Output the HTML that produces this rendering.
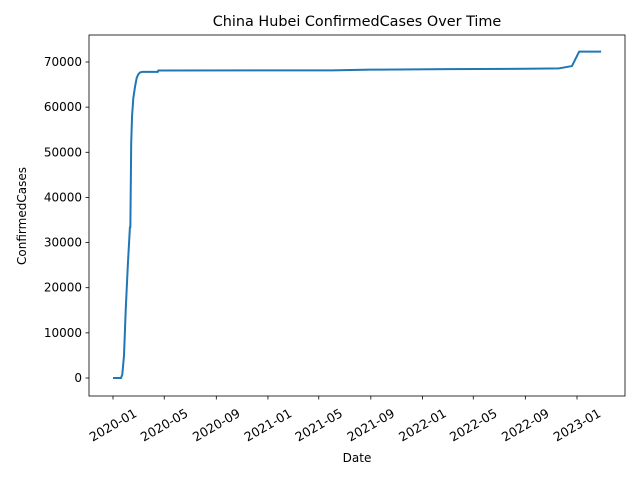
<!DOCTYPE html>
<html><head><meta charset="utf-8"><style>
body{margin:0;background:#fff;font-family:"Liberation Sans","DejaVu Sans",sans-serif}
svg text{font-family:"DejaVu Sans","Liberation Sans",sans-serif}
</style></head><body>
<svg id="chart" width="640" height="480" xmlns="http://www.w3.org/2000/svg">
<rect width="640" height="480" fill="#fff"/>
<text x="357" y="26" font-size="14.4" text-anchor="middle">China Hubei ConfirmedCases Over Time</text>
<text x="357" y="462" font-size="12" text-anchor="middle">Date</text>
<text transform="translate(26,216) rotate(-90)" font-size="12" text-anchor="middle">ConfirmedCases</text>
<g id="grid"></g>
<polyline id="line" fill="none" stroke="#1f77b4" stroke-width="2" stroke-linejoin="round"/>
<rect x="89" y="35" width="536" height="361" fill="none" stroke="#000" stroke-width="0.8"/>
</svg>
<script>
const dates=["2020-01-01","2020-01-20","2020-01-23","2020-01-27","2020-01-31","2020-02-05","2020-02-10","2020-02-11","2020-02-13","2020-02-15","2020-02-18","2020-02-22","2020-02-26","2020-03-01","2020-03-05","2020-03-10","2020-04-16","2020-04-17","2021-06-01","2021-09-01","2022-03-01","2022-09-01","2022-11-20","2022-12-20","2023-01-06","2023-02-27"];
const values=[0,0,800,5000,15000,25000,33400,33400,52000,58000,62000,64500,66500,67300,67700,67800,67800,68128,68150,68300,68420,68500,68600,69100,72290,72290];
const xTicks=["2020-01","2020-05","2020-09","2021-01","2021-05","2021-09","2022-01","2022-05","2022-09","2023-01"];
const yTicks=[0,10000,20000,30000,40000,50000,60000,70000];
const NS="http://www.w3.org/2000/svg";
const t0=Date.UTC(2020,0,1);
function days(s){const p=s.split("-").map(Number);return (Date.UTC(p[0],p[1]-1,p[2]||1)-t0)/864e5;}
function xs(s){return 113+days(s)*(464/1096);}
function ys(v){return 378-v*(316/70000);}
const g=document.getElementById("grid");
yTicks.forEach(v=>{
 const y=ys(v);
 const l=document.createElementNS(NS,"line");
 l.setAttribute("x1",85.5);l.setAttribute("x2",89);l.setAttribute("y1",y);l.setAttribute("y2",y);l.setAttribute("stroke","#000");l.setAttribute("stroke-width","0.8");
 
 
 g.appendChild(l);
 const t=document.createElementNS(NS,"text");
 t.setAttribute("x",82);t.setAttribute("y",y+4);t.setAttribute("font-size","12");t.setAttribute("text-anchor","end");t.textContent=v;
 
 
 g.appendChild(t);
});
xTicks.forEach(s=>{
 const x=xs(s);
 const l=document.createElementNS(NS,"line");
 l.setAttribute("x1",x);l.setAttribute("x2",x);l.setAttribute("y1",396);l.setAttribute("y2",399.5);l.setAttribute("stroke","#000");l.setAttribute("stroke-width","0.8");
 
 
 g.appendChild(l);
 const t=document.createElementNS(NS,"text");
 t.setAttribute("font-size","12.5");t.setAttribute("text-anchor","middle");
 t.setAttribute("transform","translate("+x+",425) rotate(-30)");
 t.setAttribute("dy","0.35em");
 t.textContent=s;
 
 
 g.appendChild(t);
});
document.getElementById("line").setAttribute("points",dates.map((d,i)=>xs(d).toFixed(2)+","+ys(values[i]).toFixed(2)).join(" "));
</script>
</body></html>
